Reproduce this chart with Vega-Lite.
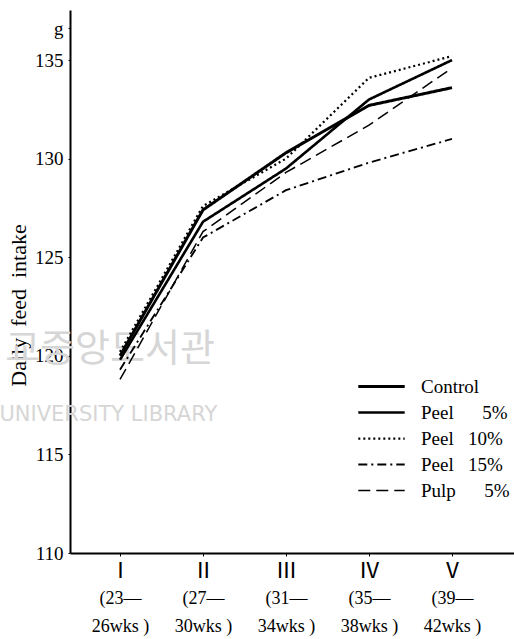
{
  "$schema": "https://vega.github.io/schema/vega-lite/v6.json",
  "width": 444,
  "height": 543,
  "autosize": {"type": "none"},
  "padding": {"left": 70, "top": 10, "right": 0, "bottom": 86},
  "background": "white",
  "config": {"view": {"stroke": null}, "font": "Liberation Serif"},
  "data": {"values": [
    {"group": "Control", "period": 1, "intake": 120.0},
    {"group": "Control", "period": 2, "intake": 127.4},
    {"group": "Control", "period": 3, "intake": 130.3},
    {"group": "Control", "period": 4, "intake": 132.7},
    {"group": "Control", "period": 5, "intake": 133.6},
    {"group": "Peel 5%", "period": 1, "intake": 119.8},
    {"group": "Peel 5%", "period": 2, "intake": 126.8},
    {"group": "Peel 5%", "period": 3, "intake": 129.5},
    {"group": "Peel 5%", "period": 4, "intake": 133.0},
    {"group": "Peel 5%", "period": 5, "intake": 135.0},
    {"group": "Peel 10%", "period": 1, "intake": 120.2},
    {"group": "Peel 10%", "period": 2, "intake": 127.6},
    {"group": "Peel 10%", "period": 3, "intake": 130.0},
    {"group": "Peel 10%", "period": 4, "intake": 134.1},
    {"group": "Peel 10%", "period": 5, "intake": 135.2},
    {"group": "Peel 15%", "period": 1, "intake": 119.3},
    {"group": "Peel 15%", "period": 2, "intake": 126.0},
    {"group": "Peel 15%", "period": 3, "intake": 128.4},
    {"group": "Peel 15%", "period": 4, "intake": 129.8},
    {"group": "Peel 15%", "period": 5, "intake": 131.0},
    {"group": "Pulp 5%", "period": 1, "intake": 118.8},
    {"group": "Pulp 5%", "period": 2, "intake": 126.3},
    {"group": "Pulp 5%", "period": 3, "intake": 129.3},
    {"group": "Pulp 5%", "period": 4, "intake": 131.7},
    {"group": "Pulp 5%", "period": 5, "intake": 134.6}
  ]},
  "resolve": {"axis": {"x": "independent"}},
  "layer": [
    {
      "data": {"values": [{"t": "교중앙도서관", "px": 0.88, "py": 120.3}]},
      "mark": {"type": "text", "font": "Noto Sans CJK KR", "fontSize": 38, "color": "#d6d6d6", "clip": false},
      "encoding": {
        "x": {"field": "px", "type": "quantitative", "axis": null},
        "y": {"field": "py", "type": "quantitative"},
        "text": {"field": "t"}
      }
    },
    {
      "data": {"values": [{"t": "UNIVERSITY LIBRARY", "px": 0.86, "py": 117.0}]},
      "mark": {"type": "text", "font": "DejaVu Sans", "fontSize": 21, "color": "#d6d6d6", "clip": false},
      "encoding": {
        "x": {"field": "px", "type": "quantitative", "axis": null},
        "y": {"field": "py", "type": "quantitative"},
        "text": {"field": "t"}
      }
    },
    {
      "mark": {"type": "line", "color": "black", "strokeCap": "butt"},
      "encoding": {
        "x": {
          "field": "period", "type": "quantitative",
          "scale": {"domain": [0.3976, 5.747], "nice": false, "zero": false},
          "axis": {
            "title": null, "values": [1, 2, 3, 4, 5], "grid": false,
            "domainColor": "black", "domainWidth": 2, "tickColor": "black", "tickSize": 3,
            "labelExpr": "['', 'Ⅰ', 'Ⅱ', 'Ⅲ', 'Ⅳ', 'Ⅴ'][datum.value]",
            "labelFont": "Noto Sans CJK JP", "labelFontSize": 22, "labelColor": "black",
            "labelPadding": 4, "labelFlush": false, "labelOverlap": false
          }
        },
        "y": {
          "field": "intake", "type": "quantitative",
          "scale": {"domain": [110, 137.54], "nice": false, "zero": false},
          "axis": {
            "title": "Daily\u00a0\u00a0feed\u00a0\u00a0intake", "titleFont": "Liberation Serif", "titleFontSize": 22,
            "titleFontWeight": "normal", "titleColor": "black",
            "titleX": -52, "titleY": 295, "titleAngle": -90, "titleAlign": "center", "titleBaseline": "middle",
            "values": [110, 115, 120, 125, 130, 135, 136.62], "grid": false,
            "labelExpr": "datum.value > 136 ? 'g' : datum.label",
            "domainColor": "black", "domainWidth": 2, "tickColor": "black", "tickSize": 2,
            "labelFont": "Liberation Serif", "labelFontSize": 19, "labelColor": "black", "labelPadding": 5,
            "labelFlush": false, "labelOverlap": false
          }
        },
        "detail": {"field": "group"},
        "strokeDash": {
          "field": "group", "type": "nominal",
          "scale": {"domain": ["Control", "Peel 5%", "Peel 10%", "Peel 15%", "Pulp 5%"],
                    "range": [[1, 0], [1, 0], [2, 3], [9, 4, 2, 4], [12, 6]]},
          "legend": {
            "title": null, "orient": "none", "legendX": 302, "legendY": 367,
            "symbolType": "M-2.9,0H2.9", "symbolSize": 256, "symbolStrokeColor": "black",
            "labelFont": "Liberation Serif", "labelFontSize": 19, "labelColor": "black",
            "labelOffset": 30, "rowPadding": 6,
            "labelExpr": "{'Control': 'Control', 'Peel 5%': 'Peel\u00a0\u00a0\u00a0\u00a0\u00a0\u00a05%', 'Peel 10%': 'Peel\u00a0\u00a0\u00a010%', 'Peel 15%': 'Peel\u00a0\u00a0\u00a015%', 'Pulp 5%': 'Pulp\u00a0\u00a0\u00a0\u00a0\u00a0\u00a05%'}[datum.label]"
          }
        },
        "strokeWidth": {
          "field": "group", "type": "nominal",
          "scale": {"domain": ["Control", "Peel 5%", "Peel 10%", "Peel 15%", "Pulp 5%"],
                    "range": [3, 1.5, 1.3, 1.7, 1.9]},
          "legend": {
            "title": null, "orient": "none", "legendX": 302, "legendY": 367,
            "symbolType": "M-2.9,0H2.9", "symbolSize": 256, "symbolStrokeColor": "black",
            "labelFont": "Liberation Serif", "labelFontSize": 19, "labelColor": "black",
            "labelOffset": 30, "rowPadding": 6,
            "labelExpr": "{'Control': 'Control', 'Peel 5%': 'Peel\u00a0\u00a0\u00a0\u00a0\u00a0\u00a05%', 'Peel 10%': 'Peel\u00a0\u00a0\u00a010%', 'Peel 15%': 'Peel\u00a0\u00a0\u00a015%', 'Pulp 5%': 'Pulp\u00a0\u00a0\u00a0\u00a0\u00a0\u00a05%'}[datum.label]"
          }
        }
      }
    },
    {
      "mark": {"type": "point", "opacity": 0},
      "encoding": {
        "x": {
          "field": "period", "type": "quantitative",
          "axis": {
            "orient": "bottom", "title": null, "values": [1, 2, 3, 4, 5], "grid": false,
            "domain": false, "ticks": false,
            "labelExpr": "[[''], ['(23—\u00a0\u00a0\u00a0\u00a0\u00a0', '26wks\u00a0)'], ['(27—\u00a0\u00a0\u00a0\u00a0\u00a0', '30wks\u00a0)'], ['(31—\u00a0\u00a0\u00a0\u00a0\u00a0', '34wks\u00a0)'], ['(35—\u00a0\u00a0\u00a0\u00a0\u00a0', '38wks\u00a0)'], ['(39—\u00a0\u00a0\u00a0\u00a0\u00a0', '42wks\u00a0)']][datum.value]",
            "labelFont": "Liberation Serif", "labelFontSize": 18, "labelColor": "black",
            "labelLineHeight": 28, "labelPadding": 36, "labelFlush": false, "labelOverlap": false
          }
        },
        "y": {"field": "intake", "type": "quantitative"}
      }
    }
  ]
}
